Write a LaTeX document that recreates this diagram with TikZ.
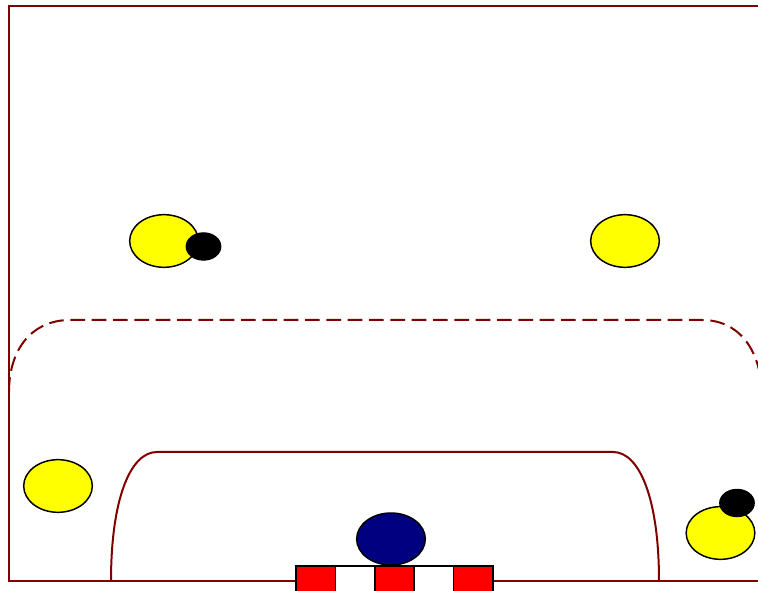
\documentclass[tikz,border=0pt]{standalone}
\usetikzlibrary{shapes.geometric}
\definecolor{fieldred}{RGB}{128,0,0}
\definecolor{keeperblue}{RGB}{0,0,128}
\definecolor{playeryellow}{RGB}{255,255,0}
\definecolor{postred}{RGB}{255,0,0}
\tikzset{
  fieldline/.style={draw=fieldred, line width=1.5pt},
  freethrow/.style={draw=fieldred, line width=1.5pt, dash pattern=on 11pt off 5pt},
  player/.style={ellipse, draw=black, fill=playeryellow, line width=1.1pt, inner sep=0pt, minimum width=51.5pt, minimum height=39.5pt},
  ball/.style={ellipse, draw=black, fill=black, line width=0.8pt, inner sep=0pt, minimum width=26pt, minimum height=20.5pt},
  keeper/.style={ellipse, draw=black, fill=keeperblue, line width=1.1pt, inner sep=0pt, minimum width=51.5pt, minimum height=39pt},
  postfillred/.style={fill=postred},
  postfillwhite/.style={fill=white},
  postborder/.style={draw=black, line width=1.1pt}
}
\begin{document}
\begin{tikzpicture}[x=0.75pt,y=-0.75pt]
\useasboundingbox (0,0) rectangle (758,591);
\fill[white] (0,0) rectangle (758,591);
\begin{scope}
\clip (0,0) rectangle (758,591);
% field outline
\coordinate (tr) at (770,6);
\coordinate (tl) at (9,6);
\coordinate (bl) at (9,581);
\coordinate (br) at (770,581);
\draw[fieldline] (tr) -- (tl) -- (bl) -- (br);
% free-throw line (dashed)
\coordinate (fl) at (9,392);
\coordinate (fr) at (762,392);
\draw[freethrow] (fl) .. controls (9,348) and (33,320) .. (70,320) -- (702,320) .. controls (738,320) and (760,348) .. (fr);
% goal area line
\coordinate (gl) at (111,581);
\coordinate (gr) at (659,581);
\draw[fieldline] (gl) .. controls (111,500) and (130,452) .. (157,452) -- (613,452) .. controls (640,452) and (659,500) .. (gr);
\end{scope}
% goal
\fill[postfillred]   (296,566) rectangle (335.5,595);
\fill[postfillwhite] (335.5,566) rectangle (375,595);
\fill[postfillred]   (375,566) rectangle (414,595);
\fill[postfillwhite] (414,566) rectangle (453.5,595);
\fill[postfillred]   (453.5,566) rectangle (493,595);
\draw[postborder] (296,595) -- (296,566) -- (493,566) -- (493,595);
\draw[postborder] (335.5,566) -- (335.5,595);
\draw[postborder] (375,566) -- (375,595);
\draw[postborder] (414,566) -- (414,595);
\draw[postborder] (453.5,566) -- (453.5,595);
% goalkeeper
\node[keeper] (gk) at (391,539) {};
% players
\node[player] (p1) at (164,241) {};
\node[ball] (b1) at (203.5,246.5) {};
\node[player] (p2) at (625,241) {};
\node[player] (p3) at (58,486) {};
\node[player] (p4) at (720.5,533) {};
\node[ball] (b4) at (737,503) {};
\end{tikzpicture}
\end{document}
